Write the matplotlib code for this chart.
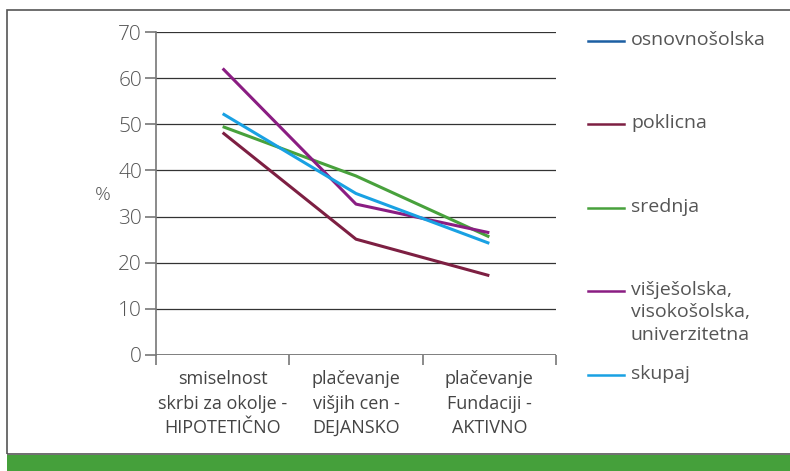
import numpy as np
import matplotlib.pyplot as plt
from matplotlib.lines import Line2D
from matplotlib.patches import Rectangle

plt.rcParams['font.family'] = ['Open Sans', 'DejaVu Sans']

# data
categories = ["smiselnost\nskrbi za okolje -\nHIPOTETIČNO",
              "plačevanje\nvišjih cen -\nDEJANSKO",
              "plačevanje\nFundaciji -\nAKTIVNO"]
series_names = ["osnovnošolska", "poklicna", "srednja",
                "višješolska,\nvisokošolska,\nuniverzitetna", "skupaj"]
osnovnosolska = [np.nan, np.nan, np.nan]
poklicna = [48.2, 25.1, 17.2]
srednja = [49.5, 38.8, 25.6]
visjesolska = [62.1, 32.7, 26.5]
skupaj = [52.3, 35.0, 24.2]
colors = ["#1c5fa3", "#7d1f42", "#48a13c", "#8a1d82", "#19a1e3"]
yticks = [0, 10, 20, 30, 40, 50, 60, 70]

W, H = 790, 471
fig = plt.figure(figsize=(W / 100, H / 100), dpi=100)

# outer frame + green bar
fig.add_artist(Rectangle((7 / W, 1 - 454 / H), W / W, 444 / H,
                         transform=fig.transFigure, fill=False,
                         edgecolor="#555555", lw=1.2))
fig.add_artist(Rectangle((7 / W, 0), (W - 7) / W, (H - 455) / H,
                         transform=fig.transFigure, color="#45a03b", lw=0))

ax = fig.add_axes([156 / W, 1 - 355 / H, 400 / W, 323 / H])
x = np.arange(len(categories))
all_series = [osnovnosolska, poklicna, srednja, visjesolska, skupaj]
for vals, c in zip(all_series, colors):
    ax.plot(x, vals, color=c, lw=2.2, solid_capstyle="butt")

ax.set_xlim(-0.5, len(categories) - 0.5)
ax.set_ylim(0, 70)
ax.set_yticks(yticks)
ax.yaxis.grid(True, color="#333333", lw=0.9)
ax.set_axisbelow(True)
for s in ["top", "right", "bottom"]:
    ax.spines[s].set_visible(False)
ax.spines["left"].set_color("#777777")
ax.spines["left"].set_linewidth(1.2)
ax.axhline(0, color="#777777", lw=1.2, zorder=0.5)

ax.set_xticks(np.arange(-0.5, len(categories), 1.0))
ax.set_xticklabels([])
ax.set_xticks(x, minor=True)
ax.set_xticklabels(categories, minor=True, fontsize=13, color="#444444",
                   linespacing=1.45)
ax.tick_params(axis="x", which="major", length=7, color="#777777", width=1.2,
               direction="out")
ax.tick_params(axis="x", which="minor", length=0, pad=11)
ax.tick_params(axis="y", length=8, color="#777777", width=1.2,
               labelsize=15, labelcolor="#555555", pad=2)
for lab in ax.get_yticklabels():
    lab.set_fontweight("light")

fig.text(103 / W, 1 - 195 / H, "%", fontsize=14, color="#555555",
         ha="center", va="center", fontweight="light")

# legend, drawn by hand to keep the uneven spacing
leg_y = [41, 124, 208, 291, 375]
for name, c, yy in zip(series_names, colors, leg_y):
    fig.add_artist(Line2D([588 / W, 624 / W], [1 - yy / H, 1 - yy / H],
                          transform=fig.transFigure, color=c, lw=1.8))
    fig.text(631 / W, 1 - (yy - 10) / H, name, fontsize=14, color="#555555",
             ha="left", va="top", linespacing=1.32)

fig.savefig("out.png", dpi=100)
